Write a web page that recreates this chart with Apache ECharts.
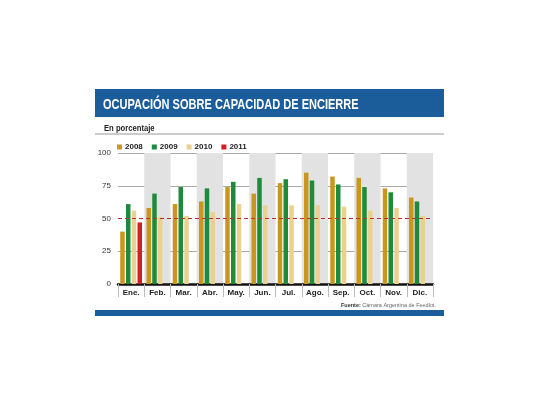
<!DOCTYPE html>
<html>
<head>
<meta charset="utf-8">
<script src="https://cdn.jsdelivr.net/npm/echarts@6/dist/echarts.min.js"></script>
<style>
html,body{margin:0;padding:0;background:#fff;}
#chart{width:540px;height:405px;}
</style>
</head>
<body>
<div id="chart"></div>
<script>
var categories = ['Ene.','Feb.','Mar.','Abr.','May.','Jun.','Jul.','Ago.','Sep.','Oct.','Nov.','Dic.'];
var s2008 = [40, 58, 61, 63, 74, 69, 77, 85, 82, 81, 73, 66];
var s2009 = [61, 69, 74, 73, 78, 81, 80, 79, 76, 74, 70, 63];
var s2010 = [56, 51, 52, 55, 61, 60, 60, 60, 59, 56, 58, 52];
var s2011 = [47, null, null, null, null, null, null, null, null, null, null, null];
var yTicks = [0, 25, 50, 75, 100];
var seriesNames = ['2008','2009','2010','2011'];
var colors = ['#c9961e','#1e8b3c','#ebd18f','#d21f26'];

var FONT = 'Liberation Sans, Arial, sans-serif';
var chart = echarts.init(document.getElementById('chart'), null, {renderer:'canvas'});
var data = [s2008, s2009, s2010, s2011];
var series = data.map(function(d, i){
  var s = {
    name: seriesNames[i], type: 'bar', data: d,
    barWidth: 4.5, barGap: '28%',
    itemStyle: {color: colors[i]},
    silent: true
  };
  if (i === 0) {
    s.markLine = {
      symbol: 'none', silent: true, label: {show:false},
      lineStyle: {color:'#b5312b', type:[4,3], width:1},
      data: [{yAxis: 50}]
    };
  }
  return s;
});

chart.setOption({
  animation: false,
  color: colors,
  textStyle: {fontFamily: FONT},
  grid: {left: 118, right: 107, top: 153, bottom: 121, containLabel: false},
  legend: {
    data: seriesNames, left: 112, top: 138, itemWidth: 5, itemHeight: 5, itemGap: 9,
    icon: 'rect',
    textStyle: {fontSize: 8, fontWeight: 'bold', color: '#222', fontFamily: FONT, padding:[0,0,0,-2]}
  },
  xAxis: {
    type: 'category', data: categories,
    axisLine: {lineStyle: {color:'#111', width: 2.5}},
    axisTick: {show: true, length: 13, lineStyle: {color:'#bbb', width:1}},
    axisLabel: {fontSize: 8, fontWeight: 'bold', color: '#222', margin: 5, fontFamily: FONT},
    splitArea: {show: true, areaStyle: {color: ['rgba(0,0,0,0)', '#e2e2e3']}}
  },
  yAxis: {
    type: 'value', min: 0, max: 100, interval: 25,
    axisLine: {show:false}, axisTick: {show:false},
    axisLabel: {fontSize: 8, color: '#333', margin: 7, fontFamily: FONT},
    splitLine: {lineStyle: {color: ['#aaa','#aaa','rgba(0,0,0,0)','#aaa','#aaa'], width: 1}}
  },
  graphic: [
    {type:'rect', shape:{x:95, y:89, width:349, height:28}, style:{fill:'#1b5d9b'}},
    {type:'text', x:103, y:104.5, scaleX:0.735, style:{text:'OCUPACIÓN SOBRE CAPACIDAD DE ENCIERRE', fill:'#fff', font:'bold 15px "Liberation Sans"', verticalAlign:'middle'}},
    {type:'text', x:104, y:129, scaleX:0.85, style:{text:'En porcentaje', fill:'#222', font:'bold 9px "Liberation Sans"', verticalAlign:'middle'}},
    {type:'line', shape:{x1:95, y1:134, x2:444, y2:134}, style:{stroke:'#999', lineWidth:1}},
    {type:'text', x:436, y:305, style:{text:'{b|Fuente:} Cámara Argentina de Feedlot.', align:'right', verticalAlign:'middle', fill:'#666', font:'5.5px "Liberation Sans"', rich:{b:{fontWeight:'bold', fill:'#333', fontSize:5.5}}}},
    {type:'rect', shape:{x:95, y:310, width:349, height:6}, style:{fill:'#1b5d9b'}}
  ],
  series: series
});
</script>
</body>
</html>
